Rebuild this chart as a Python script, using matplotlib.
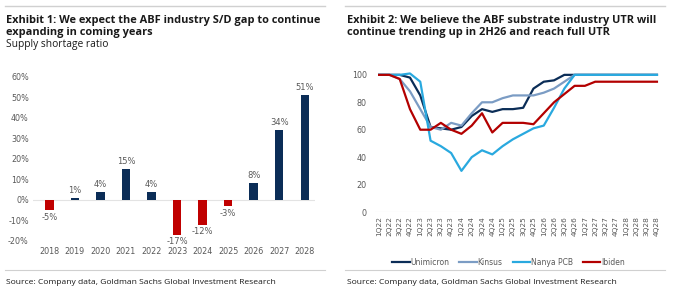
import matplotlib.pyplot as plt
from matplotlib.lines import Line2D

plt.rcParams['font.family'] = ['Open Sans', 'DejaVu Sans']

# Exhibit 1 data
years = ['2018', '2019', '2020', '2021', '2022', '2023', '2024', '2025', '2026', '2027', '2028']
shortage = [-5, 1, 4, 15, 4, -17, -12, -3, 8, 34, 51]

# Exhibit 2 data
quarters = [f'{q}Q{y}' for y in range(22, 29) for q in range(1, 5)]
unimicron = [100, 100, 100, 98, 85, 62, 61, 60, 62, 70, 75, 73, 75, 75, 76, 90,
             95, 96, 100, 100, 100, 100, 100, 100, 100, 100, 100, 100]
kinsus = [100, 100, 97, 88, 75, 62, 60, 65, 63, 72, 80, 80, 83, 85, 85, 85,
          87, 90, 95, 100, 100, 100, 100, 100, 100, 100, 100, 100]
nanya = [100, 100, 100, 101, 95, 52, 48, 43, 30, 40, 45, 42, 48, 53, 57, 61,
         63, 76, 90, 100, 100, 100, 100, 100, 100, 100, 100, 100]
ibiden = [100, 100, 97, 75, 60, 60, 65, 60, 57, 63, 72, 58, 65, 65, 65, 64,
          72, 80, 86, 92, 92, 95, 95, 95, 95, 95, 95, 95]

navy = '#0b2d57'
red = '#c00000'
grey = '#595959'

W, H = 680, 295
fig = plt.figure(figsize=(W / 100, H / 100), dpi=100)

def px(x0, y0, x1, y1):
    return [x0 / W, 1 - y1 / H, (x1 - x0) / W, (y1 - y0) / H]

# rules and titles
for a, b in [(5, 325), (345, 665)]:
    fig.add_artist(Line2D([a / W, b / W], [1 - 6 / H] * 2, color='#d0d0d0', lw=1))
    fig.add_artist(Line2D([a / W, b / W], [1 - 270 / H] * 2, color='#d0d0d0', lw=0.8))

tkw = dict(fontsize=7.9, fontweight='bold', color='#1a1a1a', va='center', ha='left')
fig.text(6 / W, 1 - 20 / H, 'Exhibit 1: We expect the ABF industry S/D gap to continue', **tkw)
fig.text(6 / W, 1 - 33 / H, 'expanding in coming years', **tkw)
fig.text(6 / W, 1 - 45 / H, 'Supply shortage ratio', fontsize=7.4, color='#1a1a1a', va='center')
fig.text(347 / W, 1 - 20 / H, 'Exhibit 2: We believe the ABF substrate industry UTR will', **tkw)
fig.text(347 / W, 1 - 33 / H, 'continue trending up in 2H26 and reach full UTR', **tkw)
src = 'Source: Company data, Goldman Sachs Global Investment Research'
fig.text(6 / W, 1 - 282 / H, src, fontsize=6.1, color='#1a1a1a', va='center')
fig.text(347 / W, 1 - 282 / H, src, fontsize=6.1, color='#1a1a1a', va='center')

# Exhibit 1
ax1 = fig.add_axes(px(33, 76.7, 315, 241))
cols = [navy if v >= 0 else red for v in shortage]
x = range(len(years))
ax1.bar(x, shortage, width=0.33, color=cols)
for i, v in enumerate(shortage):
    if v >= 0:
        ax1.text(i, v + 1.5, f'{v}%', ha='center', va='bottom', fontsize=6, color=grey,
                 family='DejaVu Sans')
    else:
        ax1.text(i, v - 1.2, f'{v}%', ha='center', va='top', fontsize=6, color=grey,
                 family='DejaVu Sans')
ax1.set_ylim(-20, 60)
ax1.set_xlim(-0.64, 10.4)
ax1.set_yticks(range(-20, 61, 10))
ax1.set_yticklabels([f'{v}%' for v in range(-20, 61, 10)])
ax1.set_xticks(list(x))
ax1.set_xticklabels(years)
ax1.axhline(0, color='#e3e3e3', lw=0.8, zorder=0)
ax1.tick_params(length=0, labelsize=5.8, labelcolor=grey, pad=3)
ax1.tick_params(axis='x', pad=4)
for lab in ax1.get_xticklabels() + ax1.get_yticklabels():
    lab.set_family('DejaVu Sans')
for s in ax1.spines.values():
    s.set_visible(False)

# Exhibit 2
ax2 = fig.add_axes(px(375, 68, 659, 212))
qx = range(len(quarters))
ax2.plot(qx, unimicron, color=navy, lw=1.6, label='Unimicron', solid_joinstyle='round')
ax2.plot(qx, kinsus, color='#7b9cc4', lw=1.6, label='Kinsus', solid_joinstyle='round')
ax2.plot(qx, nanya, color='#29a9df', lw=1.6, label='Nanya PCB', solid_joinstyle='round')
ax2.plot(qx, ibiden, color='#b30000', lw=1.6, label='Ibiden', solid_joinstyle='round')
ax2.set_ylim(0, 105)
ax2.set_xlim(-0.4, 27.2)
ax2.set_yticks(range(0, 101, 20))
ax2.set_xticks(list(qx))
ax2.set_xticklabels(quarters, rotation=90)
ax2.axhline(0, color='#e3e3e3', lw=0.8, zorder=0)
ax2.tick_params(length=0, labelsize=5.3, labelcolor=grey, pad=3)
ax2.tick_params(axis='y', labelsize=5.8, pad=6)
for lab in ax2.get_xticklabels() + ax2.get_yticklabels():
    lab.set_family('DejaVu Sans')
for s in ax2.spines.values():
    s.set_visible(False)
leg = ax2.legend(ncol=4, loc='upper center', bbox_to_anchor=(0.47, -0.27), frameon=False,
                 prop={'family': 'DejaVu Sans', 'size': 5.5}, handlelength=2.3,
                 handletextpad=0.1, columnspacing=1.3)
for t in leg.get_texts():
    t.set_color(grey)

fig.savefig('out.png', dpi=100)
